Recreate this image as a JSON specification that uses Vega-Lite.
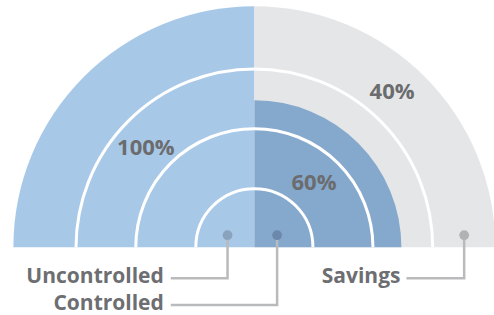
{
  "$schema": "https://vega.github.io/schema/vega-lite/v6.json",
  "width": 494,
  "height": 315,
  "autosize": {"type": "fit", "contains": "padding"},
  "padding": 0,
  "background": "white",
  "view": {"stroke": null},
  "config": {"text": {"font": "Open Sans", "fontWeight": "bold"}},
  "datasets": {
    "parts": [
      {"part": "Uncontrolled", "t0": -90, "t1": 0, "r0": 0, "r1": 100},
      {"part": "Savings", "t0": 0, "t1": 90, "r0": 0, "r1": 100},
      {"part": "Controlled", "t0": 0, "t1": 90, "r0": 0, "r1": 61}
    ],
    "rings": [
      {"r": 74}, {"r": 49.2}, {"r": 24.3}
    ],
    "dots": [
      {"part": "Uncontrolled", "x": -11.2, "y": 5},
      {"part": "Controlled", "x": 9.5, "y": 5},
      {"part": "Savings", "x": 87.6, "y": 5}
    ],
    "leaders": [
      {"part": "Uncontrolled", "i": 0, "x": -11.2, "y": 5},
      {"part": "Uncontrolled", "i": 1, "x": -11.2, "y": -12.9},
      {"part": "Uncontrolled", "i": 2, "x": -34.9, "y": -12.9},
      {"part": "Controlled", "i": 0, "x": 9.5, "y": 5},
      {"part": "Controlled", "i": 1, "x": 9.5, "y": -24.1},
      {"part": "Controlled", "i": 2, "x": -34.9, "y": -24.1},
      {"part": "Savings", "i": 0, "x": 87.6, "y": 5},
      {"part": "Savings", "i": 1, "x": 87.6, "y": -12.9},
      {"part": "Savings", "i": 2, "x": 63.5, "y": -12.9}
    ],
    "labels": [
      {"label": "Uncontrolled", "x": -37.8, "y": -12.9},
      {"label": "Controlled", "x": -37.8, "y": -24.1},
      {"label": "Savings", "x": 61.0, "y": -12.9}
    ],
    "pcts": [
      {"label": "100%", "x": -45.3, "y": 41.5},
      {"label": "40%", "x": 57.5, "y": 64.4},
      {"label": "60%", "x": 24.9, "y": 26.6}
    ]
  },
  "encoding": {
    "x": {"type": "quantitative", "scale": {"domain": [-106.2, 98.8], "nice": false, "zero": false}, "axis": null},
    "y": {"type": "quantitative", "scale": {"domain": [-27.8, 102.9], "nice": false, "zero": false}, "axis": null}
  },
  "layer": [
    {
      "data": {"name": "parts"},
      "transform": [{"filter": "datum.part != 'Controlled'"}],
      "mark": {"type": "arc"},
      "encoding": {
        "x": {"datum": 0, "type": "quantitative"},
        "y": {"datum": 0, "type": "quantitative"},
        "theta": {"field": "t0", "type": "quantitative", "stack": null, "scale": {"type": "linear", "domain": [-180, 180], "range": [-3.14159265, 3.14159265], "zero": false, "nice": false}},
        "theta2": {"field": "t1"},
        "radius": {"field": "r1", "type": "quantitative", "scale": {"type": "linear", "domain": [0, 100], "range": [0, 241], "zero": true, "nice": false}},
        "radius2": {"field": "r0"},
        "color": {"field": "part", "type": "nominal", "legend": null, "scale": {"domain": ["Uncontrolled", "Savings", "Controlled"], "range": ["#a8c8e8", "#e5e6e8", "#85a8cd"]}}
      }
    },
    {
      "data": {"name": "parts"},
      "transform": [{"filter": "datum.part == 'Controlled'"}],
      "mark": {"type": "arc"},
      "encoding": {
        "x": {"datum": 0, "type": "quantitative"},
        "y": {"datum": 0, "type": "quantitative"},
        "theta": {"field": "t0", "type": "quantitative", "stack": null},
        "theta2": {"field": "t1"},
        "radius": {"field": "r1", "type": "quantitative"},
        "radius2": {"field": "r0"},
        "color": {"field": "part", "type": "nominal", "legend": null}
      }
    },
    {
      "data": {"name": "rings"},
      "mark": {"type": "arc", "filled": false, "stroke": "white", "strokeWidth": 3, "fill": null},
      "encoding": {
        "x": {"datum": 0, "type": "quantitative"},
        "y": {"datum": 0, "type": "quantitative"},
        "theta": {"datum": -90, "type": "quantitative", "stack": null},
        "theta2": {"datum": 90},
        "radius": {"field": "r", "type": "quantitative"},
        "radius2": {"field": "r"}
      }
    },
    {
      "data": {"name": "leaders"},
      "mark": {"type": "line", "color": "#b9babc", "strokeWidth": 2.5, "strokeJoin": "miter"},
      "encoding": {
        "x": {"field": "x", "type": "quantitative"},
        "y": {"field": "y", "type": "quantitative"},
        "detail": {"field": "part", "type": "nominal"},
        "order": {"field": "i", "type": "quantitative"}
      }
    },
    {
      "data": {"name": "dots"},
      "mark": {"type": "circle", "size": 95, "opacity": 1},
      "encoding": {
        "x": {"field": "x", "type": "quantitative"},
        "y": {"field": "y", "type": "quantitative"},
        "fill": {"field": "part", "type": "nominal", "legend": null, "scale": {"domain": ["Uncontrolled", "Controlled", "Savings"], "range": ["#8aa3bd", "#6c88aa", "#b1b2b4"]}}
      }
    },
    {
      "data": {"name": "labels"},
      "mark": {"type": "text", "align": "right", "baseline": "middle", "fontSize": 21, "color": "#6d6e71", "dy": -1},
      "encoding": {
        "x": {"field": "x", "type": "quantitative"},
        "y": {"field": "y", "type": "quantitative"},
        "text": {"field": "label"}
      }
    },
    {
      "data": {"name": "pcts"},
      "mark": {"type": "text", "align": "center", "baseline": "middle", "fontSize": 22, "color": "#6b6c6e"},
      "encoding": {
        "x": {"field": "x", "type": "quantitative"},
        "y": {"field": "y", "type": "quantitative"},
        "text": {"field": "label"}
      }
    }
  ]
}
